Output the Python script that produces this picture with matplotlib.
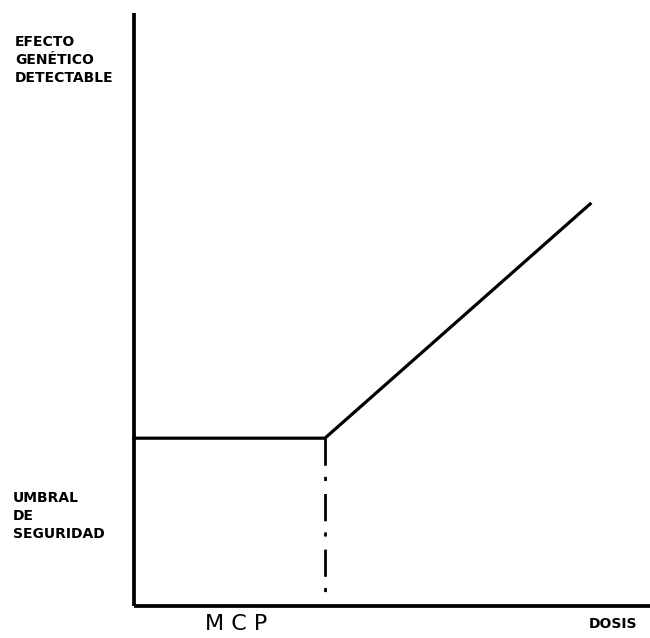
import matplotlib
matplotlib.use("Agg")
import matplotlib.pyplot as plt

# data (relative units on axes 0-100)
mcp_dose = 37.0
threshold = 28.3
end_dose = 88.4
end_effect = 67.8

line_x = [0, mcp_dose, end_dose]
line_y = [threshold, threshold, end_effect]

y_label_top = "EFECTO\nGENÉTICO\nDETECTABLE"
y_label_bottom = "UMBRAL\nDE\nSEGURIDAD"
x_label_mcp = "M C P"
x_label_end = "DOSIS"

W, H = 650, 638
fig = plt.figure(figsize=(W / 100, H / 100), dpi=100)
ax = fig.add_axes([134 / W, 32 / H, 516 / W, 593 / H])
ax.set_xlim(0, 100)
ax.set_ylim(0, 100)
for s in ["top", "right"]:
    ax.spines[s].set_visible(False)
for s in ["left", "bottom"]:
    ax.spines[s].set_linewidth(2.7)
    ax.spines[s].set_color("black")
    ax.spines[s].set_capstyle("butt")
ax.set_xticks([])
ax.set_yticks([])

ax.plot(line_x, line_y, color="black", lw=2.3, solid_joinstyle="miter", clip_on=False)
ax.plot([mcp_dose, mcp_dose], [threshold, 0], color="black", lw=2.0,
        dashes=[9.8, 4.0, 1.5, 4.7], dash_capstyle="butt", clip_on=False)

fs = 10
fig.text(15 / W, 1 - 35 / H, y_label_top, ha="left", va="top", fontsize=fs,
         fontweight="bold", linespacing=1.35, family="DejaVu Sans")
fig.text(13 / W, 1 - 491 / H, y_label_bottom, ha="left", va="top", fontsize=fs,
         fontweight="bold", linespacing=1.35, family="DejaVu Sans")
fig.text(236 / W, 1 - 614 / H, x_label_mcp, ha="center", va="top", fontsize=16,
         family="DejaVu Sans")
fig.text(613 / W, 1 - 617 / H, x_label_end, ha="center", va="top", fontsize=10,
         fontweight="bold", family="DejaVu Sans")

fig.savefig("out.png", dpi=100, facecolor="white")
